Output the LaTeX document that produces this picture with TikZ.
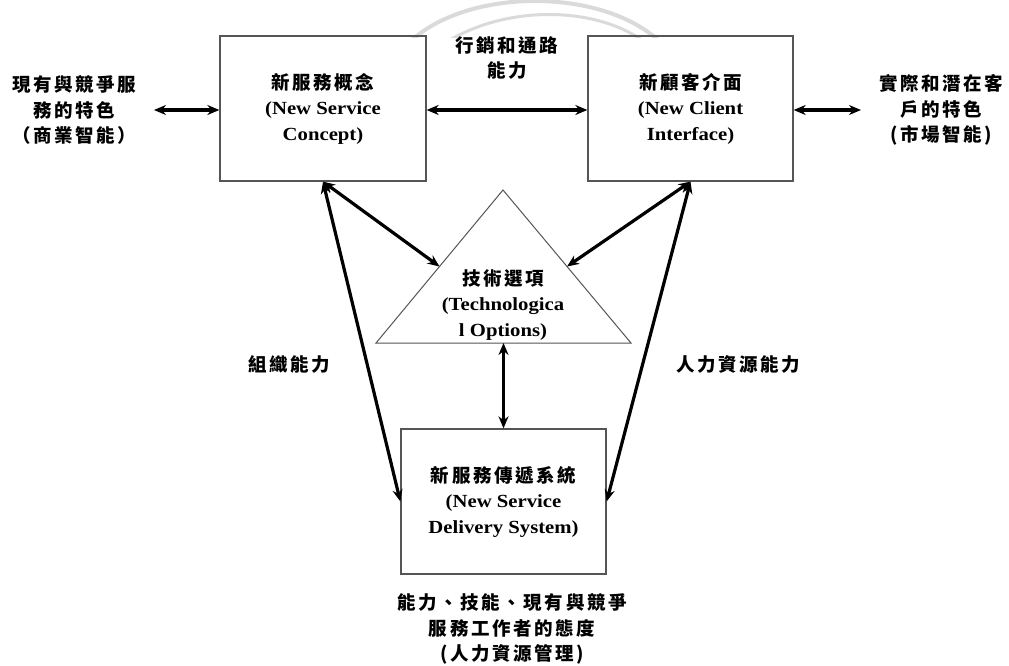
\documentclass[tikz,border=0pt]{standalone}
\usepackage{fontspec}
\setmainfont{Liberation Serif}[FakeStretch=1.12]
\newfontfamily\cjk{Noto Sans CJK TC}[LetterSpace=14]
\usetikzlibrary{arrows.meta,calc}
\definecolor{boxgray}{HTML}{555555}
\definecolor{wmgray}{HTML}{DADADA}
\begin{document}
\begin{tikzpicture}[x=1pt,y=-1pt,
  box/.style={draw=boxgray, line width=1.3pt, minimum width=206pt, minimum height=145pt, inner sep=0pt, align=center, font=\bfseries\fontsize{18.5}{25.5}\selectfont},
  lbl/.style={align=center, inner sep=0pt, font=\bfseries\fontsize{18.5}{25.5}\selectfont},
  arr/.style={line width=3.2pt, {Stealth[length=12pt,width=10pt]}-{Stealth[length=12pt,width=10pt]}},
  tri/.style={draw=boxgray, line width=1pt, line join=miter}]
\useasboundingbox (0,0) rectangle (1009,666);
% watermark arcs
\begin{scope}
\clip (0,0) rectangle (1009,37.5);
\draw[wmgray, line width=4pt] (412,40) .. controls (470,-12) and (600,-12) .. (658,40);
\draw[wmgray, line width=3pt] (450,40) .. controls (508,6) and (592,6) .. (642,40);
\end{scope}
% boxes
\node[box] (nsc) at (323,108.5) {{\cjk 新服務概念}\\(New Service\\Concept)};
\node[box, minimum width=205pt] (ncl) at (690.5,108.5) {{\cjk 新顧客介面}\\(New Client\\Interface)};
\node[box, minimum width=205pt] (nsd) at (503.5,501.5) {{\cjk 新服務傳遞系統}\\(New Service\\Delivery System)};
% triangle
\coordinate (tA) at (503,190);
\coordinate (tL) at (376,343);
\coordinate (tR) at (631,343);
\draw[tri] (tA) -- (tL) -- (tR) -- cycle;
\node[lbl] (tech) at (503,305) {{\cjk 技術選項}\\(Technologica\\l Options)};
\coordinate (tLm) at ($(tA)!0.5!(tL)$);
\coordinate (tRm) at ($(tA)!0.5!(tR)$);
\coordinate (tB) at ($(tL)!0.5!(tR)$);
% outer labels
\node[lbl] (bi) at (74,110) {\cjk 現有與競爭服\\\cjk 務的特色\\\cjk （商業智能）};
\node[lbl] (mi) at (941,110) {\cjk 實際和潛在客\\\cjk 戶的特色\\{\cjk (市場智能)}};
\node[lbl] (mkt) at (507,58) {\cjk 行銷和通路\\\cjk 能力};
\node[lbl] (org) at (289,364) {\cjk 組織能力};
\node[lbl] (hr) at (738,364) {\cjk 人力資源能力};
\node[lbl] (hrm) at (512,629) {\cjk 能力、技能、現有與競爭\\\cjk 服務工作者的態度\\\cjk (人力資源管理)};
% connectors
\coordinate (la) at (154,110);
\coordinate (ra) at (861,110);
\draw[arr] (la) -- (nsc.west |- la);
\draw[arr] (nsc.east |- la) -- (ncl.west |- la);
\draw[arr] (ncl.east |- ra) -- (ra);
\draw[arr] (nsc.south) -- (tLm);
\draw[arr] (ncl.south) -- (tRm);
\draw[arr] (nsc.south) -- (nsd.west);
\draw[arr] (ncl.south) -- (nsd.east);
\draw[arr] (tB) -- (nsd.north);
\end{tikzpicture}
\end{document}
